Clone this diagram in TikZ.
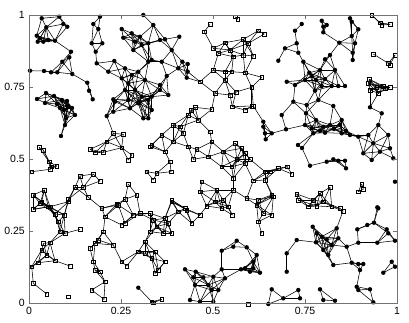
\documentclass[tikz,border=0pt]{standalone}
\usepackage{fontspec}
\setmainfont{Liberation Sans}

\newcount\npt
\newdimen\ddx
\newdimen\ddy
\newdimen\rlim
\rlim=19.5pt

% positions in picture units (1 unit = 1px of the plot), y downwards
% nodes drawn with a filled dot
\def\dotpts{41.7/18.3, 59.3/16.7, 46.3/27.3, 63.3/24, 67.3/26.7, 36.7/35.7, 40/38.3, 43.3/41.7, 48.3/40, 55/40.7, 37.7/41.7, 71/51.7, 69.3/57.3, 62.3/61.7, 57.3/72.3, 51/72.3, 44/71, 30/70.7, 72.3/74, 87.3/82.7, 89/90.7, 92.7/99.3,
37/99, 46/93, 54/96, 45/103, 57/104, 62/100, 67/101, 60/108, 64/110, 68/106, 72/108, 75/115, 66/118, 65/125, 61/136,
100/16.7, 93.3/24, 98.3/29, 91.7/43.3, 102.3/43.3, 95.7/51.7, 96.7/63.3, 114.3/61, 108.3/71.7, 121.7/29, 123.3/37.7, 131.7/33.3, 143.3/15, 153.3/25, 140/36.7, 135/41.7, 141.7/45, 133.3/50, 148.3/43.3, 125/68.3, 131.7/75, 138.3/71.7, 121.7/78.3, 128.3/83.3, 145/80, 125/90, 135/90, 141.7/96.7, 113.3/99.3, 128.3/100, 138.3/103.3, 151.7/60, 160/40, 165/39.3, 179.3/36.7, 171.7/50, 148.3/61.7, 161.7/61.7, 182.3/61.7, 178.3/68.3, 187.7/64, 187.7/71.7, 166.7/76, 186.7/77.7, 160/85, 160/90, 151.7/96.7, 168.3/95, 148.3/100, 106.7/116, 113.3/111.7, 115/101.7, 130/108.3, 143.3/118.3, 148.3/118.3, 140/101.7, 151.7/110,
301.7/24, 321.7/20.7, 323.3/26.7, 326.7/25, 323.3/32.3, 295/30.7, 296.7/43.3, 285/48.3, 298.3/52.7, 278.3/60.7, 303.3/61.7, 339.3/42.7, 350/18.3, 351.7/21.7, 358.3/29.3, 351.7/36, 355/43.3, 352.7/52.7, 352.7/60, 330/55, 325/59.3, 335/70, 320/70, 309.3/72.7, 311.7/76, 286.7/81.7, 295/85, 315/90.7, 321.7/86, 331.7/86, 338.3/86, 345/86, 318.3/100, 306.7/105, 293.3/101.7, 370/107.3, 305/80, 316/80, 325/79,
281.7/115, 286/129.3, 306/113.3, 333.3/106, 305/125, 311.7/128.3, 323.3/126.7, 330/125, 340/125, 341.7/120, 341.7/133.3, 325/132.7, 313.3/133.3, 350/135, 358.3/136.7, 298/145, 302/148, 381.7/113.3, 378.3/125, 368.3/135, 388.3/135, 373.3/143.3, 363.3/153.3, 371.7/160, 390/148.3, 380/151.7, 393.3/158.3, 310/165.7, 326.7/161.7, 333.3/159.3, 338.3/160.7, 345/160.7, 346/168.3, 395/181.7, 378.3/208.3, 316/120, 320/131, 334/129, 346/131,
263.3/121.7, 263.3/126.7, 265/133.3, 265.7/139.3, 271.7/133.3,
221.7/250.7, 233.3/246.7, 236.7/240.7, 246.7/247.3, 256.7/255, 253.3/261.7, 245/268.3, 253.3/268.3, 260/272.7, 250/271.7, 241/269.3, 221.7/269.3, 185/269.3, 195.7/271.7, 193.3/277.3, 203.3/277.3, 213.3/276.7, 225/278.3, 195/285, 208.3/285, 218.3/290, 211.7/290, 190/300, 200/301.7, 213.3/301.7, 268.3/304,
377.3/207.3, 374/222.7, 357.3/229.3, 367.3/225, 386.7/229.3, 336.7/228.3, 312.7/226.7, 316.7/233.3, 296.7/240, 316/242.3, 326.7/239.3, 338.3/238.3, 321.7/236.7, 331.7/245, 346.7/246.7, 358.3/242.7, 377.3/242.7, 388.3/233.3, 395/240.7, 328.3/255, 323.3/250, 333.3/265, 351.7/262.7, 358.3/264, 363.3/264, 360/270, 383.3/272.7, 391.7/261.7, 395/266.7, 286.7/253.3, 286.7/271.7, 271.7/289.3, 283.3/298.3, 298.3/290, 300/298.3, 320/289.3, 323.3/300, 335/300.7, 356.7/286.7, 358.3/290, 370/289.3, 373.3/302.3, 138.3/287.7}
% nodes drawn with an open square
\def\sqpts{210/24.3, 204.3/31.7, 235/16.7, 237.7/19.3, 258.3/30.7, 264.3/34, 243.3/39.3, 225/42.7, 248.3/43.3, 213.3/48.3, 230/50, 218.3/53.3, 243.3/55, 253.3/56, 233.3/56.7, 213.3/70, 225/71.7, 231.7/71.7, 245/72.7, 261.7/77.3, 251.7/87.3, 200/81.7, 215/93.3, 225/80, 230/95, 236/92, 195/107.3, 253.3/106, 232.3/106.7,
371.7/15, 380/22.7, 390/24.3, 381.7/25, 373.3/54, 395/55, 390/65, 388.3/63.3, 369.3/79.3, 368.3/83.3, 370/90, 376.7/87.3, 385/88.3, 390/87.3, 378.3/93.3, 383.3/86,
39/147.3, 43.3/150, 49/161.7, 51.7/166.7, 56.7/166, 50/169.3, 31.7/171.7, 44.3/190, 33.3/195, 40/203.3, 48.3/206.7, 90/149.3, 95/152.7, 103.3/152.3, 106.7/141.7, 113.3/133.3, 123.3/134.3, 121.7/147.7, 131.7/155, 128.3/160, 80/176, 93.3/174, 100/181, 75/187.3, 83.3/187.3, 88.3/197.3, 68.3/199.3, 128.3/184, 146.7/171.7, 153.3/180, 136.7/195, 125/199.3, 116.7/204.3, 101.7/208.3, 151.7/145,
211.7/109.3, 198.3/120, 173.3/125, 188.3/115, 191/110, 180/126.7, 183.3/133.3, 161.7/135, 173.3/141.7, 150/146.7, 165/151.7, 188.3/146.7, 196.7/149.3, 211.7/141.7, 210/131.7, 208.3/156.7, 193.3/159.3, 221.7/166.7, 223.3/151.7, 235/143.3, 241.7/148.3, 236.7/159.3, 245/153.3, 250/159.3, 245/163.3, 231.7/166.7, 170/161.7, 171/171.7, 156.7/173.3, 201.7/181.7, 200/191.7, 216.7/190, 223.3/200, 215/201.7, 233.3/178.3, 233.3/190, 228.3/206.7, 171.7/200, 185/208.3, 253.3/180.7, 265/171.7, 265/180, 246.7/198.3, 258.3/200, 273.3/196.7, 251.7/106, 245/110,
270/171.7, 278.3/168.3, 287.3/166.7, 291.7/174, 361.7/184, 363.3/189.3, 358.3/191.7, 296.7/194, 298.3/200, 330/187.3, 320/193.3, 313.3/200, 316.7/206, 323.3/201.7, 331.7/206.7, 340/208.3, 308.3/206.7, 271.7/195, 343/211,
33.3/209.3, 41.7/201.7, 50/206.7, 55/214, 64.3/215, 68.3/201.7, 58.3/221.7, 60/231.7, 65/233.3, 80/229.3, 43.3/243.3, 50/242.7, 41.7/250, 46.7/255, 38.3/262.7, 31.7/266.7, 55/260.7, 70/266, 33.3/283.3, 46.7/294, 68.3/296.7, 105/216.7, 118.3/205, 133.3/215, 121.7/225, 125/223.3, 103.3/231.7, 98.3/240, 95/243.3, 113.3/245, 90/248.3, 93.3/261.7, 95/270, 100/271.7, 105/281.7, 91.7/290, 104/299.3, 138.3/251.7, 145/253.3, 121.7/261.7, 126.7/266, 140/213.3, 153.3/220, 151.7/301.7,
171.7/201.7, 178.3/211.7, 186.7/210, 191.7/223.3, 200/215, 206.7/206, 221.7/208.3, 232.3/215, 165/218.3, 168.3/223.3, 156.7/226.7, 150/231.7, 163.3/233.3, 171.7/233.3, 145/241.7, 155/251.7, 151.7/258.3, 165/261.7, 158.3/270, 155/273.3, 256.7/205, 263.3/213.3, 258.3/221.7, 261.7/233.3, 271.7/215, 153.3/302.7, 161.7/299.3, 248.3/304, 150/213.3}

\begin{document}
\begin{tikzpicture}[x=1pt,y=-1pt,
link/.style={line width=0.55pt},
dotmark/.style={circle,fill,inner sep=0pt,minimum size=4.4pt},
sqmark/.style={rectangle,draw,line width=0.4pt,inner sep=0pt,minimum size=3.8pt},
axis/.style={draw=black!55,line width=0.9pt},
ticklabel/.style={font=\fontsize{10.5}{12}\selectfont,inner sep=1pt}]

\useasboundingbox (0,0) rectangle (409,322);

% register all positions
\global\npt=0
\foreach \x/\y in \dotpts {\global\advance\npt by 1
  \edef\k{\the\npt}
  \coordinate (p\k) at (\x,\y);
  \expandafter\xdef\csname px\k\endcsname{\x}
  \expandafter\xdef\csname py\k\endcsname{\y}}
\edef\ndots{\the\npt}
\foreach \x/\y in \sqpts {\global\advance\npt by 1
  \edef\k{\the\npt}
  \coordinate (p\k) at (\x,\y);
  \expandafter\xdef\csname px\k\endcsname{\x}
  \expandafter\xdef\csname py\k\endcsname{\y}}
\edef\nall{\the\npt}

% links between nodes closer than \rlim
\foreach \i in {1,...,\nall}{
  \foreach \j in {\i,...,\nall}{
    \ifnum\j>\i\relax
      \ddx=\csname px\i\endcsname pt
      \advance\ddx by -\csname px\j\endcsname pt
      \ifdim\ddx<0pt \ddx=-\ddx\fi
      \ifdim\ddx<\rlim
        \ddy=\csname py\i\endcsname pt
        \advance\ddy by -\csname py\j\endcsname pt
        \ifdim\ddy<0pt \ddy=-\ddy\fi
        \ifdim\ddy<\rlim
          \pgfmathparse{veclen(\the\ddx,\the\ddy)}
          \ifdim\pgfmathresult pt<\rlim
            \draw[link] (p\i) -- (p\j);
          \fi
        \fi
      \fi
    \fi}}

% markers
\foreach \k in {1,...,\ndots} \node[dotmark] (m\k) at (p\k) {};
\pgfmathtruncatemacro\firstsq{\ndots+1}
\foreach \k in {\firstsq,...,\nall} \node[sqmark] (m\k) at (p\k) {};

% axes
\draw[axis] (29,15) rectangle (397,303);
\foreach \lab [count=\t from 0] in {0,0.25,0.5,0.75,1}{
  \draw[axis] (29+92*\t,303) -- ++(0,-4);
  \draw[axis] (29+92*\t,15) -- ++(0,4);
  \draw[axis] (29,303-72*\t) -- ++(4,0);
  \draw[axis] (397,303-72*\t) -- ++(-4,0);
  \node[ticklabel,anchor=north] (xl\t) at (29+92*\t,306) {\lab};
  \node[ticklabel,anchor=east] (yl\t) at (26,303-72*\t) {\lab};
}
\end{tikzpicture}
\end{document}
